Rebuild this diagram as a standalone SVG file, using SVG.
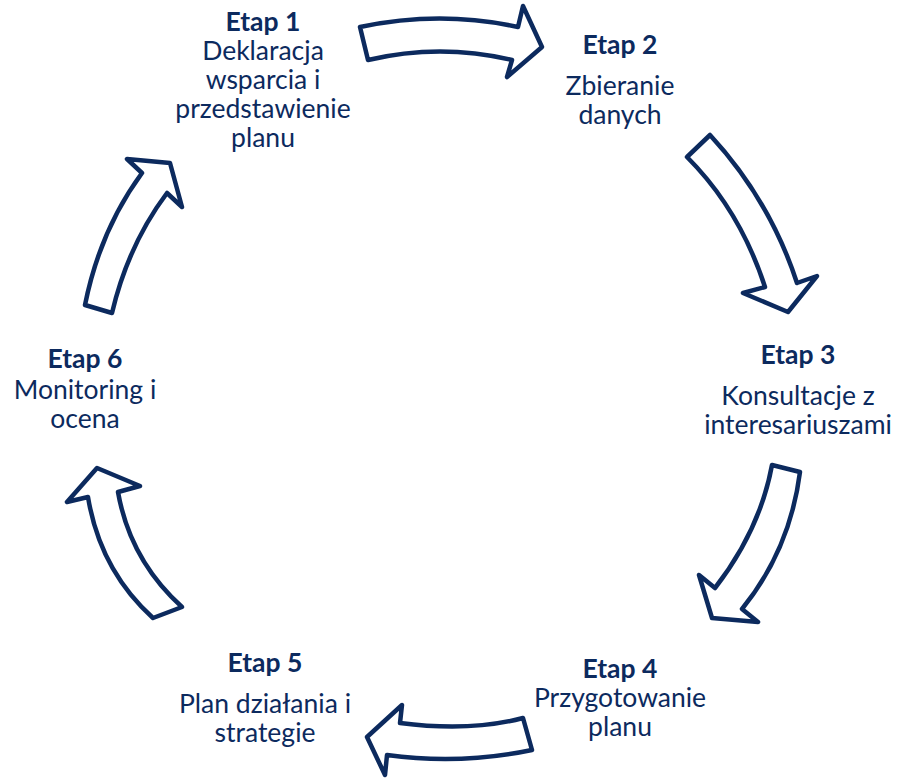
<svg xmlns="http://www.w3.org/2000/svg" width="899" height="779" viewBox="0 0 899 779">
<style>
.arr{fill:#fff;stroke:#0c2a5e;stroke-width:4.5;stroke-linejoin:round}
text{font-family:Lato,"Open Sans","Liberation Sans",sans-serif;font-size:26.5px;fill:#0c2a5e;text-anchor:middle}
.b{font-weight:bold}
</style>
<rect width="899" height="779" fill="#fff"/>
<g id="connectors">
<path class="arr" d="M360,27 Q440,10 518,27 L523,6 L542,47 L507,77 L512,60 Q440,43 368,60 Z"/>
<path class="arr" d="M710,135 Q770,200 797,283 L817,276 L788,312 L743,293 L765,287 Q740,210 687,157 Z"/>
<path class="arr" d="M800,472 Q790,550 742,609 L758,622 L712,618 L699,575 L715,588 Q760,530 772,465 Z"/>
<path class="arr" d="M523,718 Q470,732 400,723 L402,705 L367,737 L385,775 L387,755 Q460,765 532,750 Z"/>
<path class="arr" d="M182,607 Q130,560 118,492 L140,486 L97,468 L67,502 L88,497 Q100,570 153,618 Z"/>
<path class="arr" d="M85,305 Q100,230 142,173 L127,159 L170,163 L182,207 L167,193 Q128,245 112,313 Z"/>
</g>
<g id="etap1">
<text class="b" x="263" y="31">Etap 1</text>
<text x="263" y="60">Deklaracja</text>
<text x="263" y="89">wsparcia i</text>
<text x="263" y="118">przedstawienie</text>
<text x="263" y="147">planu</text>
</g>
<g id="etap2">
<text class="b" x="620" y="54">Etap 2</text>
<text x="620" y="95">Zbieranie</text>
<text x="620" y="124">danych</text>
</g>
<g id="etap3">
<text class="b" x="798" y="364">Etap 3</text>
<text x="798" y="405">Konsultacje z</text>
<text x="798" y="434">interesariuszami</text>
</g>
<g id="etap4">
<text class="b" x="620" y="678">Etap 4</text>
<text x="620" y="707">Przygotowanie</text>
<text x="620" y="736">planu</text>
</g>
<g id="etap5">
<text class="b" x="265" y="672">Etap 5</text>
<text x="265" y="713">Plan działania i</text>
<text x="265" y="742">strategie</text>
</g>
<g id="etap6">
<text class="b" x="85" y="368">Etap 6</text>
<text x="85" y="399">Monitoring i</text>
<text x="85" y="428">ocena</text>
</g>
</svg>
